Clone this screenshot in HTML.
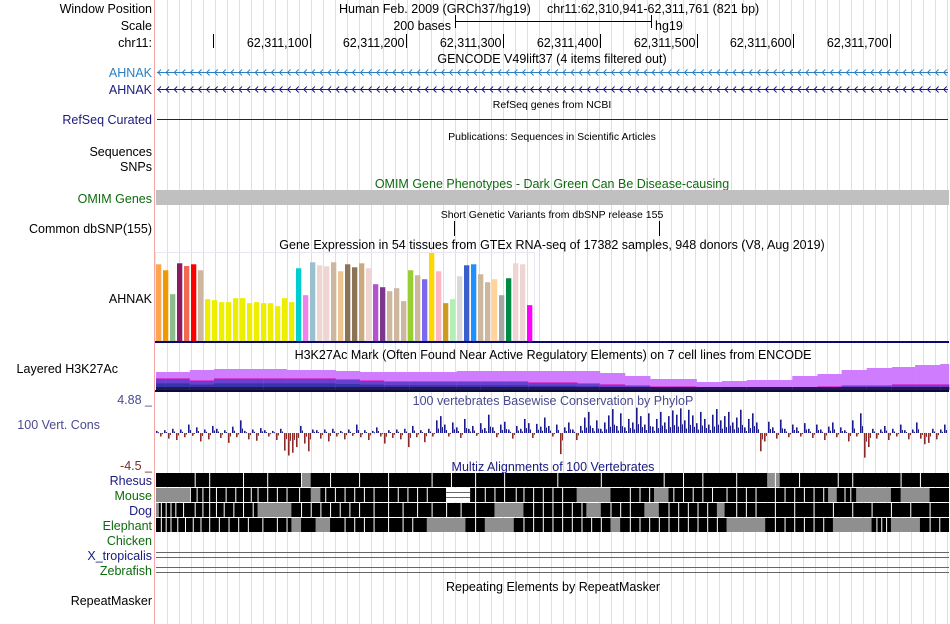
<!DOCTYPE html>
<html><head><meta charset="utf-8"><style>
html,body{margin:0;padding:0;background:#fff;width:950px;height:624px;overflow:hidden}
svg{display:block;font-family:"Liberation Sans",sans-serif}
</style></head><body>
<svg id="g" width="950" height="624" viewBox="0 0 950 624">
<g id="grid"></g>
<line x1="154.5" y1="0" x2="154.5" y2="624" stroke="#f4a7a7"/>
<g font-size="12.5" fill="#000" text-anchor="end">
<text x="152" y="13">Window Position</text>
<text x="152" y="30">Scale</text>
<text x="152" y="47">chr11:</text>
<text x="152" y="77" fill="#2b7fc0">AHNAK</text>
<text x="152" y="94" fill="#1a1a80">AHNAK</text>
<text x="152" y="124" fill="#1a1a80">RefSeq Curated</text>
<text x="152" y="156">Sequences</text>
<text x="152" y="171">SNPs</text>
<text x="152" y="203" fill="#0d6b0d">OMIM Genes</text>
<text x="152" y="233">Common dbSNP(155)</text>
<text x="152" y="303">AHNAK</text>
<text x="118" y="373">Layered H3K27Ac</text>
<text x="152" y="404" fill="#4a4a90">4.88 _</text>
<text x="100" y="429" fill="#4a4a90">100 Vert. Cons</text>
<text x="152" y="470" fill="#7a2a2a">-4.5 _</text>
<text x="152" y="485" fill="#1a1a80">Rhesus</text>
<text x="152" y="500" fill="#0d6b0d">Mouse</text>
<text x="152" y="515" fill="#1a1a80">Dog</text>
<text x="152" y="530" fill="#0d6b0d">Elephant</text>
<text x="152" y="545" fill="#0d6b0d">Chicken</text>
<text x="152" y="560" fill="#1a1a80">X_tropicalis</text>
<text x="152" y="575" fill="#0d6b0d">Zebrafish</text>
<text x="152" y="605">RepeatMasker</text>
</g>
<g font-size="12.5" text-anchor="middle">
<text x="339" y="13" text-anchor="start">Human Feb. 2009 (GRCh37/hg19)</text>
<text x="547" y="13" text-anchor="start">chr11:62,310,941-62,311,761 (821 bp)</text>
<text x="552" y="63">GENCODE V49lift37 (4 items filtered out)</text>
<text x="552" y="108" font-size="10.5">RefSeq genes from NCBI</text>
<text x="552" y="140" font-size="10.5">Publications: Sequences in Scientific Articles</text>
<text x="552" y="188" fill="#0d6b0d">OMIM Gene Phenotypes - Dark Green Can Be Disease-causing</text>
<text x="552" y="218" font-size="10.5">Short Genetic Variants from dbSNP release 155</text>
<text x="552" y="249">Gene Expression in 54 tissues from GTEx RNA-seq of 17382 samples, 948 donors (V8, Aug 2019)</text>
<text x="553" y="359">H3K27Ac Mark (Often Found Near Active Regulatory Elements) on 7 cell lines from ENCODE</text>
<text x="553" y="405" fill="#4a4a90">100 vertebrates Basewise Conservation by PhyloP</text>
<text x="553" y="471" fill="#1a1a80">Multiz Alignments of 100 Vertebrates</text>
<text x="553" y="591">Repeating Elements by RepeatMasker</text>
</g>
<g font-size="12.5">
<text x="451" y="30" text-anchor="end">200 bases</text>
<line x1="455" y1="21.5" x2="651" y2="21.5" stroke="#000"/>
<line x1="455.5" y1="15" x2="455.5" y2="28" stroke="#000"/>
<line x1="651.5" y1="15" x2="651.5" y2="28" stroke="#000"/>
<text x="655" y="30">hg19</text>
</g>
<g id="ruler" font-size="12.5"></g>
<g id="genes"></g>
<line x1="157" y1="119.5" x2="948" y2="119.5" stroke="#1a1a80"/>
<rect x="156" y="190" width="793" height="15" fill="#c0c0c0"/>
<line x1="454.5" y1="221" x2="454.5" y2="236" stroke="#000"/>
<line x1="659.5" y1="221" x2="659.5" y2="236" stroke="#000"/>
<g id="gtex"></g>
<g id="h3k"></g>
<g id="cons"></g>
<g id="multiz"></g>
</svg>
<script>
// GTEx data
const gtexValues=[231,213,141,234,226,231,213,126,123,117,117,129,129,114,117,114,114,105,129,117,219,138,237,228,225,237,210,231,222,234,219,171,162,150,159,120,213,198,186,265,210,114,126,195,228,231,201,177,186,138,189,234,231,108];
const gtexColors=["#FFA54F","#EE9A00","#8FBC8F","#8B1C62","#EE6A50","#FF0000","#CDB79E","#EEEE00","#EEEE00","#EEEE00","#EEEE00","#EEEE00","#EEEE00","#EEEE00","#EEEE00","#EEEE00","#EEEE00","#EEEE00","#EEEE00","#EEEE00","#00CED1","#EE82EE","#9AC0CD","#EED5D2","#EED5D2","#CDB79E","#EEC591","#8B7355","#8B7355","#CDAA7D","#EED5D2","#B452CD","#7A378B","#CDB79E","#CDB79E","#CDB79E","#9ACD32","#CDB79E","#7B68EE","#FFD700","#FFB6C1","#CD9B1D","#B4EEB4","#D9D9D9","#3A5FCD","#1E90FF","#CDB79E","#CDB79E","#FFD39B","#A6A6A6","#008B45","#EED5D2","#EED5D2","#FF00FF"];
// H3K27Ac segments (genomic bp offsets) and signal
const h3kStarts=[0,10,35,60,111,135,186,211,236,262,311,336,361,385,436,459,485,511,559,585,611,658,684,709,735,761,785,811,820];
const h3kPink=[18,18,20,21,21,20,19,18,18,18,19,19,19,19,19,17,14,11,8,9,10,14,16,20,22,23,25,26];
const h3kPurple=[11,11,9,11,11,11,10,9,8,8,8,8,8,7,6,5,4,3,2,2,2,2,3,4,4,5,5,5];
// PhyloP
const consValues=[0.3,-0.5,0.4,-0.8,0.6,-1.0,0.5,-0.6,1.2,-0.4,0.8,-1.2,0.5,-0.9,1.0,0.6,-0.7,0.4,-1.4,0.9,-0.6,1.8,0.3,-0.9,0.5,-1.1,0.7,0.4,-0.5,0.3,-1.0,0.6,-2.5,-3.2,-2.8,-2.0,1.0,-1.5,-2.6,0.5,0.4,-0.8,0.5,-1.2,0.6,-0.5,0.3,-0.9,0.5,-0.4,1.2,-0.6,0.4,-1.0,0.3,0.8,-0.5,-1.5,0.4,-0.7,0.5,-0.9,0.6,-2.0,1.0,-0.6,0.4,-1.3,0.6,-0.5,1.8,2.4,1.2,-0.5,1.5,0.8,-0.7,2.0,0.6,1.0,-0.4,1.4,0.7,2.6,0.8,-0.6,1.2,1.6,0.5,-0.8,1.0,0.6,2.0,1.4,-0.7,1.3,0.9,2.2,1.0,-0.5,1.2,-3.0,0.8,1.5,0.5,-1.0,1.0,2.2,3.0,0.7,1.8,0.6,1.5,2.5,3.4,1.0,2.8,0.8,2.0,1.5,3.6,2.4,1.2,2.8,0.9,2.0,3.0,1.5,2.4,3.2,2.6,3.5,1.8,3.3,2.5,1.4,3.0,2.0,1.2,2.6,3.4,1.8,2.4,3.0,1.5,2.2,3.3,0.8,2.0,2.8,1.5,-2.6,-1.2,1.6,0.8,-0.8,1.9,0.6,-0.6,1.2,0.8,-0.5,1.4,0.6,-0.7,1.2,0.5,-1.0,0.9,1.5,-0.6,0.8,0.4,-1.2,1.8,-0.5,2.8,-3.5,-2.0,0.6,-0.8,0.5,1.0,-1.0,0.6,-0.5,1.2,0.4,-0.9,0.5,1.5,-0.8,-1.6,-1.4,0.6,-0.9,0.5,1.2];
const rulerTicks=[62311000,62311100,62311200,62311300,62311400,62311500,62311600,62311700];
const rulerLabels=["","62,311,100","62,311,200","62,311,300","62,311,400","62,311,500","62,311,600","62,311,700"];
// Multiz gray runs [start,end] in bp offsets per species
const mzGray={rhesus:[[150,160],[632,645]],mouse:[[0,35],[160,170],[310,320],[435,470],[515,530],[695,704],[724,760],[770,800]],dog:[[0,3],[105,140],[350,380],[445,460],[505,520],[580,588]],elephant:[[140,150],[165,180],[280,320],[340,370],[470,480],[590,630],[700,740],[760,790]]};
const mzWhite={rhesus:[40,55,90,115,150,180,210,240,285,305,330,360,415,460,525,545,565,600,640,665,705,720,770,790],mouse:[35,42,48,55,62,72,82,90,98,105,115,125,135,148,175,185,195,205,215,225,240,250,260,270,280,300,330,340,350,360,372,380,390,400,410,420,490,500,510,535,545,555,565,575,590,600,610,620,640,650,660,670,680,690,712,718],dog:[5,10,15,20,28,40,48,55,62,70,80,90,100,150,160,170,180,190,200,210,225,240,255,270,285,300,315,330,390,400,410,420,430,440,470,480,490,530,540,550,560,570,600,610,620,640,660,680,700,720,740,760,780,800],elephant:[5,10,15,22,30,38,46,55,65,75,85,95,110,125,135,195,205,215,225,240,255,265,330,380,390,400,410,420,430,440,450,460,490,500,510,520,530,540,550,560,570,580,640,650,660,670,680,690,745,750,755,800,810]};
const START=62310941, PXBP=0.967, X0=156;
function xs(bp){return X0+(bp-START)*PXBP;}
function xo(off){return X0+off*PXBP;}
const NS="http://www.w3.org/2000/svg";
function mk(parent,tag,attrs){const e=document.createElementNS(NS,tag);for(const k in attrs)e.setAttribute(k,attrs[k]);parent.appendChild(e);return e;}
// grid
const grid=document.getElementById('grid');
for(let x=167;x<950;x+=12){const l=mk(grid,'line',{x1:x+.5,y1:0,x2:x+.5,y2:624,stroke:'#dcdcf6'});

}
// ruler
const ruler=document.getElementById('ruler');
rulerTicks.forEach((t,i)=>{const x=Math.round(xs(t))+.5;
const l=mk(ruler,'line',{x1:x,y1:34,x2:x,y2:48,stroke:'#000'});


if(rulerLabels[i]){const tx=mk(ruler,'text',{x:x-2,y:47,'text-anchor':'end'});tx.textContent=rulerLabels[i];

}});
// genes
const genes=document.getElementById('genes');
[[72.5,'#2b7fc0'],[89.5,'#1a1a80']].forEach(([y,c],gi)=>{
const l=mk(genes,'line',{x1:157,y1:y,x2:948,y2:y,stroke:c});


let d='';for(let x=158;x<946;x+=8.1){d+=`M${x+3},${y-3}L${x},${y}L${x+3},${y+3}`;}
const p=mk(genes,'path',{d:d,stroke:c,fill:'none'});

});
// gtex
const gtex=document.getElementById('gtex');
const GB=341, GS=88/265;
mk(gtex,'rect',{x:155.5,y:252.5,width:379,height:88,fill:'none',stroke:'#e8e8f4'});
gtexValues.forEach((v,i)=>{const h=v*GS;const r=mk(gtex,'rect',{x:156+i*7,y:GB-h,width:5.3,height:h,fill:gtexColors[i]});

});
const gl=mk(gtex,'rect',{x:155,y:341,width:794,height:2,fill:'#0a0a6e'});


// h3k27ac
const h3k=document.getElementById('h3k');
const HB=390;
h3kPink.forEach((v,i)=>{const x1=xo(h3kStarts[i]),x2=Math.min(xo(h3kStarts[i+1]),949);const w=x2-x1+0.3;
const p=h3kPurple[i];
const a=mk(h3k,'rect',{x:x1,y:HB-v,width:w,height:v,fill:'#d07cff'});


const m=mk(h3k,'rect',{x:x1,y:HB-p-1,width:w,height:1.5,fill:'#d040d0'});


const b=mk(h3k,'rect',{x:x1,y:HB-p,width:w,height:p,fill:'#6a3fcf'});


const bh=Math.min(p,Math.max(3,p*0.6));
const b2=mk(h3k,'rect',{x:x1,y:HB-bh,width:w,height:bh,fill:'#3535a8'});


const c=mk(h3k,'rect',{x:x1,y:HB-3,width:w,height:3,fill:'#241650'});

});
const hb=mk(h3k,'rect',{x:155,y:390,width:794,height:2,fill:'#0a0a3e'});


// conservation
const cons=document.getElementById('cons');
const CZ=433, CS=7.04;
consValues.forEach((v,i)=>{const x=156+i*4;const h=Math.abs(v)*CS;
const r=mk(cons,'rect',{x:x,y:v>0?CZ-h:CZ,width:1.6,height:Math.max(h,1),fill:v>0?'#1a1a8c':'#8c2a2a'});


const r2=mk(cons,'rect',{x:x+2,y:v>0?CZ-h*0.35:CZ,width:1,height:Math.max(h*0.35,1),fill:v>0?'#1a1a8c':'#8c2a2a'});

});
// multiz
const mz=document.getElementById('multiz');
const rows=[['rhesus',473],['mouse',488],['dog',503],['elephant',518]];
rows.forEach(([sp,y])=>{
const bg=mk(mz,'rect',{x:156,y:y,width:793,height:14,fill:'#000'});


mzGray[sp].forEach(([a,b])=>{const r=mk(mz,'rect',{x:xo(a),y:y,width:(b-a)*PXBP,height:14,fill:'#8f8f8f'});

});
mzWhite[sp].forEach(a=>{const r=mk(mz,'rect',{x:xo(a),y:y,width:1,height:14,fill:'#fff'});

});});
const gapM=mk(mz,'rect',{x:xo(300),y:488,width:24,height:14,fill:'#fff'});


[492.5,497.5].forEach(y=>{const l=mk(mz,'line',{x1:xo(300),y1:y,x2:xo(300)+24,y2:y,stroke:'#666'});

});
[552.5,557.5,567.5,572.5].forEach(y=>{const l=mk(mz,'line',{x1:156,y1:y,x2:949,y2:y,stroke:'#666'});

});
</script>
</body></html>
